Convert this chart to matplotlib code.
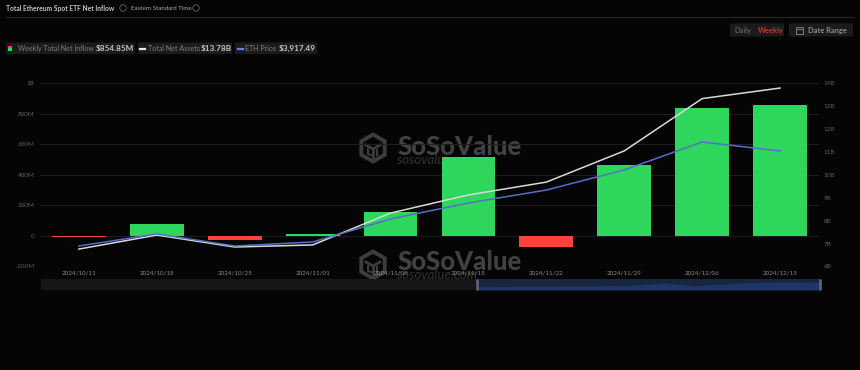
import matplotlib
matplotlib.use("Agg")
import matplotlib.pyplot as plt
from matplotlib.patches import Rectangle, FancyBboxPatch, RegularPolygon, Circle
from matplotlib.ticker import FixedLocator

plt.rcParams['font.family'] = ['Lato', 'DejaVu Sans']

dates = ["2024/10/11", "2024/10/18", "2024/10/25", "2024/11/01", "2024/11/08",
         "2024/11/15", "2024/11/22", "2024/11/29", "2024/12/06", "2024/12/13"]
net_inflow_m = [-5, 78, -25, 14, 157, 515, -72, 465, 837, 854.85]
net_assets_b = [6.76, 7.37, 6.85, 6.94, 8.33, 9.12, 9.68, 11.04, 13.32, 13.78]
eth_price = [2440, 2627, 2440, 2502, 2860, 3109, 3310, 3622, 4057, 3917.49]
left_ticks = [-200, 0, 200, 400, 600, 800, 1000]
left_labels = ["-200M", "0", "200M", "400M", "600M", "800M", "1B"]
right_ticks = [6, 7, 8, 9, 10, 11, 12, 13, 14]
right_labels = ["6B", "7B", "8B", "9B", "10B", "11B", "12B", "13B", "14B"]
slider_selected = [3.2, 3.4, 3.5, 3.6, 3.9, 4.4, 6.5, 3.9, 5.5, 7.0, 7.3, 7.0]

BG = "#050505"
W, H = 860, 370
GREEN, RED, WHITE, BLUE = "#2ed65b", "#fb4440", "#d9d9d9", "#5470c6"
GRID = "#1f1f1f"
TICK = "#5e5e5e"

fig = plt.figure(figsize=(W / 100, H / 100), dpi=100, facecolor=BG)

def rect(x0, y0, x1, y1):
    return [x0 / W, 1 - y1 / H, (x1 - x0) / W, (y1 - y0) / H]

bg = fig.add_axes([0, 0, 1, 1], zorder=0)
bg.set_xlim(0, W); bg.set_ylim(H, 0); bg.axis("off")

def wm(y_name, y_url, cx, cy):
    bg.add_patch(RegularPolygon((cx, cy), 6, radius=13.5, fill=False, ec="#3d3d3d", lw=2.8))
    bg.plot([cx - 7, cx, cx + 7], [cy - 3, cy + 1, cy - 3], color="#3d3d3d", lw=2)
    bg.plot([cx, cx], [cy + 1, cy + 9], color="#3d3d3d", lw=2)
    bg.plot([cx - 5, cx - 5, cx - 2], [cy + 1, cy + 6, cy + 7], color="#3d3d3d", lw=1.5)
    bg.plot([cx + 4, cx + 4], [cy + 2, cy + 7], color="#3d3d3d", lw=1.5)
    bg.text(397, y_name, "SoSoValue", color="#414141", fontsize=18.5, fontweight="black", va="center", ha="left")
    bg.text(397, y_url, "sosovalue.com", color="#333333", fontsize=9.5, style="italic", va="center", ha="left")

wm(147, 160, 373, 148)
wm(262, 275, 373, 265)

bg.plot([6, 853], [17, 17], color="#262626", lw=0.8)
bg.text(6, 8, "Total Ethereum Spot ETF Net Inflow", color="#c4c4c4", fontsize=4.9, fontweight="bold", va="center")
bg.add_patch(Circle((123, 8), 3.2, fill=False, ec="#666666", lw=0.6))
bg.text(131, 8, "Eastern Standard Time", color="#a8a8a8", fontsize=4.45, va="center")
bg.add_patch(Circle((196, 8), 3.2, fill=False, ec="#666666", lw=0.6))

def chip(x0, x1, y0=42.5, y1=54):
    bg.add_patch(FancyBboxPatch((x0 + 1, y0 + 1), x1 - x0 - 2, y1 - y0 - 2, boxstyle="round,pad=1",
                                fc="#1b1b1b", ec="none"))

chip(6, 135); chip(138, 232); chip(235, 317)
bg.add_patch(Rectangle((8, 45.5), 4, 2.8, fc=RED, ec="none"))
bg.add_patch(Rectangle((8, 48.3), 4, 2.8, fc=GREEN, ec="none"))
bg.text(18, 48.5, "Weekly Total Net Inflow", color="#7d7d7d", fontsize=5.0, va="center")
bg.text(96, 48.5, "$854.85M", color="#c4c4c4", fontsize=5.9, fontweight="bold", va="center")
bg.plot([140, 145], [48.5, 48.5], color="#e8e8e8", lw=1.6)
bg.text(147.5, 48.5, "Total Net Assets", color="#7d7d7d", fontsize=5.1, va="center")
bg.text(201, 48.5, "$13.78B", color="#c4c4c4", fontsize=5.9, fontweight="bold", va="center")
bg.plot([237.5, 243], [48.5, 48.5], color="#6a80e0", lw=1.6)
bg.text(245, 48.5, "ETH Price", color="#7d7d7d", fontsize=5.1, va="center")
bg.text(279, 48.5, "$3,917.49", color="#c4c4c4", fontsize=5.9, fontweight="bold", va="center")

chip(730, 784, 23.5, 36.5); chip(789, 853, 23.5, 36.5)
bg.text(734, 30, "Daily", color="#6f6f6f", fontsize=5.4, va="center")
bg.text(758, 30, "Weekly", color="#c8352c", fontsize=5.4, fontweight="bold", va="center")
bg.add_patch(Rectangle((795.5, 26.5), 7, 7, fill=False, ec="#7a7a7a", lw=0.7))
bg.plot([795.5, 802.5], [28.5, 28.5], color="#7a7a7a", lw=0.7)
bg.text(808, 30, "Date Range", color="#8a8a8a", fontsize=5.4, fontweight="bold", va="center")

ax = fig.add_axes(rect(40, 83, 819, 266.5), zorder=2)
ax.patch.set_alpha(0)
x = list(range(len(dates)))
colors = [GREEN if v >= 0 else RED for v in net_inflow_m]
ax.bar(x, net_inflow_m, width=0.69, color=colors, zorder=3)
ax.set_xlim(-0.5, len(dates) - 0.5)
ax.set_ylim(-200, 1000)
ax.yaxis.set_major_locator(FixedLocator(left_ticks))
ax.set_yticklabels(left_labels)
ax.set_xticks(x)
ax.set_xticklabels(dates)
ax.grid(axis="y", color=GRID, lw=0.7, zorder=0)
ax.tick_params(axis="both", length=0, colors=TICK, labelsize=4.5)
ax.tick_params(axis="x", pad=3, colors="#8a8a8a")
ax.tick_params(axis="y", pad=4)
for s in ax.spines.values():
    s.set_visible(False)

ax2 = ax.twinx()
ax2.plot(x, net_assets_b, color=WHITE, lw=1.1, zorder=5)
ax2.set_ylim(6, 14)
ax2.yaxis.set_major_locator(FixedLocator(right_ticks))
ax2.set_yticklabels(right_labels)
ax2.tick_params(axis="y", length=0, colors=TICK, labelsize=4.5, pad=3.5)
for s in ax2.spines.values():
    s.set_visible(False)

ax3 = ax.twinx()
ax3.plot(x, eth_price, color=BLUE, lw=1.1, zorder=6)
ax3.set_ylim(2121, 4974)
ax3.axis("off")

sl = fig.add_axes(rect(41, 279, 820, 290), zorder=3)
sl.set_xlim(0, 1); sl.set_ylim(0, 10)
sl.axis("off")
sl.add_patch(Rectangle((0, 0), 1, 10, fc="#161616", ec="none"))
sel0 = (477 - 41) / 779
sl.add_patch(Rectangle((sel0, 0), 1 - sel0, 10, fc="#18263e", ec="none"))
n = len(slider_selected)
xs = [sel0 + (1 - sel0) * i / (n - 1) for i in range(n)]
sl.fill_between(xs, 0, slider_selected, color="#1b3766", lw=0)
for xp in (sel0, 1):
    sl.plot([xp, xp], [0.5, 9.5], color="#5a6270", lw=2, solid_capstyle="round", clip_on=False)

fig.savefig("out.png", dpi=100, facecolor=BG)
